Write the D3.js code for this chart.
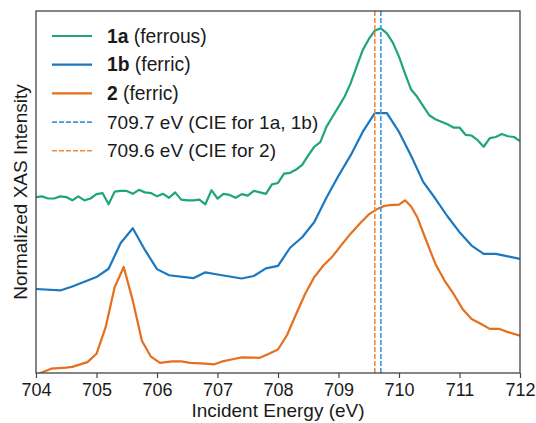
<!DOCTYPE html>
<html>
<head>
<meta charset="utf-8">
<script src="https://cdn.jsdelivr.net/npm/d3@7"></script>
<style>
  body { margin: 0; background: #fff; }
  text { font-family: "Liberation Sans", Arial, sans-serif; fill: #1a1a1a; }
</style>
</head>
<body>
<div id="chart"></div>
<script>
// spectra (normalized, offset for display)
var energy1a = [704.0,704.1,704.2,704.3,704.4,704.5,704.6,704.7,704.8,704.9,
  705.0,705.1,705.2,705.3,705.4,705.5,705.6,705.7,705.8,705.9,
  706.0,706.1,706.2,706.3,706.4,706.5,706.6,706.7,706.8,706.9,
  707.0,707.1,707.2,707.3,707.4,707.5,707.6,707.7,707.8,707.9,
  708.0,708.1,708.2,708.3,708.4,708.5,708.6,708.7,708.8,708.9,
  709.0,709.1,709.2,709.3,709.4,709.5,709.6,709.7,709.8,709.9,
  710.0,710.1,710.2,710.3,710.4,710.5,710.6,710.7,710.8,710.9,
  711.0,711.1,711.2,711.3,711.4,711.5,711.6,711.7,711.8,711.9,712.0];
var int1a = [0.486,0.488,0.482,0.482,0.488,0.486,0.477,0.488,0.477,0.482,
  0.494,0.497,0.466,0.501,0.503,0.503,0.495,0.506,0.499,0.497,
  0.488,0.495,0.484,0.499,0.479,0.477,0.477,0.479,0.466,0.505,
  0.482,0.495,0.492,0.484,0.494,0.490,0.503,0.499,0.495,0.521,
  0.525,0.551,0.553,0.562,0.575,0.601,0.625,0.638,0.680,0.708,
  0.735,0.763,0.800,0.846,0.892,0.922,0.946,0.952,0.938,0.912,
  0.874,0.827,0.783,0.763,0.737,0.712,0.701,0.694,0.687,0.678,
  0.678,0.658,0.656,0.643,0.625,0.649,0.652,0.660,0.654,0.652,0.641];

var energy1b = [704.0,704.4,704.6,705.0,705.2,705.4,705.6,705.8,706.0,706.2,
  706.6,706.8,707.0,707.4,707.6,707.8,708.0,708.2,708.4,708.6,
  708.8,709.0,709.2,709.4,709.6,709.8,710.0,710.2,710.4,710.6,
  710.8,711.0,711.2,711.4,711.6,711.8,712.0];
var int1b = [0.232,0.228,0.239,0.265,0.288,0.359,0.400,0.340,0.287,0.270,
  0.262,0.278,0.272,0.261,0.268,0.289,0.296,0.346,0.375,0.417,
  0.484,0.545,0.601,0.666,0.718,0.718,0.666,0.600,0.528,0.482,
  0.433,0.389,0.352,0.329,0.329,0.322,0.315];

var energy2 = [704.0,704.25,704.5,704.6,704.85,705.0,705.15,705.3,705.45,705.6,
  705.75,705.9,706.05,706.25,706.4,706.55,706.8,706.95,707.1,707.25,
  707.4,707.7,707.85,708.0,708.15,708.3,708.45,708.6,708.75,708.9,
  709.05,709.2,709.35,709.5,709.65,709.75,709.85,710.0,710.1,710.2,
  710.3,710.45,710.6,710.75,710.9,711.05,711.2,711.35,711.5,711.65,
  711.8,712.0];
var int2 = [-0.005,0.012,0.015,0.017,0.030,0.053,0.126,0.237,0.293,0.200,
  0.089,0.045,0.028,0.032,0.032,0.028,0.026,0.024,0.033,0.038,
  0.043,0.042,0.053,0.065,0.105,0.163,0.219,0.265,0.297,0.322,
  0.354,0.385,0.412,0.438,0.454,0.461,0.464,0.465,0.477,0.460,
  0.431,0.366,0.302,0.256,0.219,0.177,0.149,0.136,0.122,0.122,
  0.113,0.103];

var xTicks = [704,705,706,707,708,709,710,711,712];
var cieEnergies = [709.7, 709.6];

var series = [
  {name: "1a", note: " (ferrous)", x: energy1a, y: int1a, color: "#1fa57a"},
  {name: "1b", note: " (ferric)", x: energy1b, y: int1b, color: "#1a78c0"},
  {name: "2", note: " (ferric)", x: energy2, y: int2, color: "#e56f1c"}
];
var cieLines = [
  {e: cieEnergies[0], label: "709.7 eV (CIE for 1a, 1b)", color: "#3d9ad8"},
  {e: cieEnergies[1], label: "709.6 eV (CIE for 2)", color: "#f0893a"}
];

var W = 536, H = 423;
var margin = {top: 11, right: 16, bottom: 50, left: 36};
var width = W - margin.left - margin.right,
  height = H - margin.top - margin.bottom;

var svg = d3.select("#chart").append("svg")
  .attr("width", W)
  .attr("height", H);

var g = svg.append("g")
  .attr("transform", "translate(" + margin.left + "," + margin.top + ")");

var x = d3.scaleLinear().domain([704, 712]).range([0, width]);
var y = d3.scaleLinear().domain([0, 1]).range([height, 0]);

g.append("clipPath").attr("id", "clip")
  .append("rect").attr("width", width).attr("height", height);

var plot = g.append("g").attr("clip-path", "url(#clip)");

var line = d3.line()
  .x(d => x(d[0]))
  .y(d => y(d[1]));

// spectra
series.forEach(function(s) {
  plot.append("path")
    .datum(d3.zip(s.x, s.y))
    .attr("fill", "none")
    .attr("stroke", s.color)
    .attr("stroke-width", 2.2)
    .attr("stroke-linejoin", "round")
    .attr("d", line);
});

// CIE markers
plot.selectAll(".cie")
  .data(cieLines)
  .enter().append("line")
    .attr("class", "cie")
    .attr("x1", d => x(d.e)).attr("x2", d => x(d.e))
    .attr("y1", 0).attr("y2", height)
    .attr("stroke", d => d.color)
    .attr("stroke-width", 1.6)
    .attr("stroke-dasharray", "5,2");

// x axis
var xAxis = g.append("g")
  .attr("transform", "translate(0," + height + ")")
  .call(d3.axisBottom(x).tickValues(xTicks).tickSize(5).tickPadding(5).tickFormat(d3.format("d")));
xAxis.select(".domain").remove();
xAxis.selectAll("line").attr("stroke", "#444").attr("stroke-width", 1.2);
xAxis.selectAll("text").style("font-size", "18px").attr("fill", "#1a1a1a");

// frame
g.append("rect")
  .attr("width", width).attr("height", height)
  .attr("fill", "none")
  .attr("stroke", "#444")
  .attr("stroke-width", 1.3);

// axis titles
svg.append("text")
  .attr("x", margin.left + width / 2)
  .attr("y", 417)
  .attr("text-anchor", "middle")
  .style("font-size", "19px")
  .text("Incident Energy (eV)");

svg.append("text")
  .attr("transform", "translate(27," + (margin.top + height / 2) + ") rotate(-90)")
  .attr("text-anchor", "middle")
  .style("font-size", "19px")
  .text("Normalized XAS Intensity");

// legend
var legend = svg.append("g").attr("transform", "translate(52,36)");
var rowH = 28.7;

series.forEach(function(s, i) {
  var row = legend.append("g").attr("transform", "translate(0," + i * rowH + ")");
  row.append("line")
    .attr("x1", 0).attr("x2", 40)
    .attr("stroke", s.color).attr("stroke-width", 2.2);
  var t = row.append("text").attr("x", 55).attr("dy", "0.35em").style("font-size", "19.3px");
  t.append("tspan").attr("font-weight", "bold").text(s.name);
  t.append("tspan").text(s.note);
});

cieLines.forEach(function(c, i) {
  var row = legend.append("g").attr("transform", "translate(0," + (i + 3) * rowH + ")");
  row.append("line")
    .attr("x1", 0).attr("x2", 40)
    .attr("stroke", c.color).attr("stroke-width", 1.6)
    .attr("stroke-dasharray", "5,2");
  row.append("text").attr("x", 55).attr("dy", "0.35em")
    .style("font-size", "19px")
    .text(c.label);
});
</script>
</body>
</html>
